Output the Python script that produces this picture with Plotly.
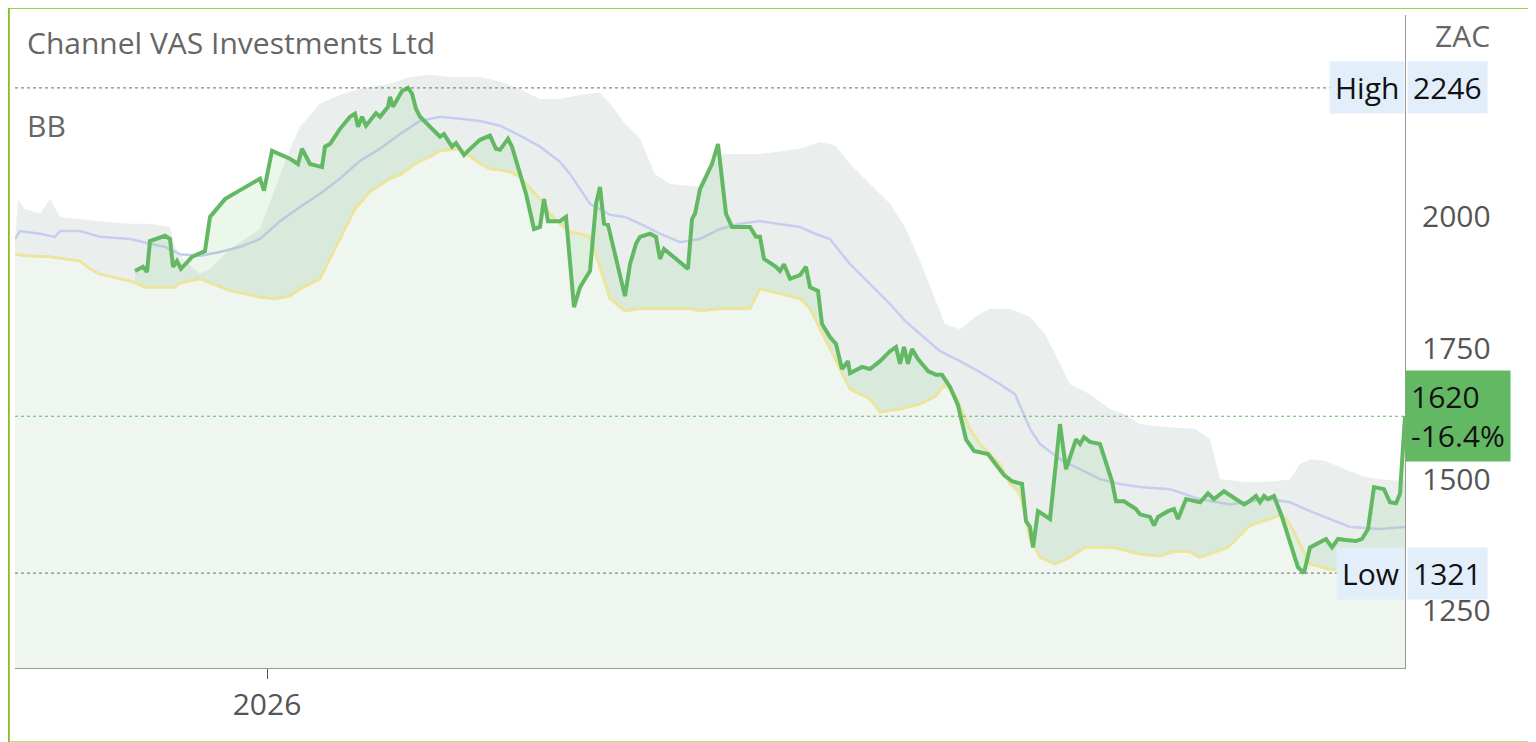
import numpy as np
import pandas as pd
import plotly.graph_objects as go

start = pd.Timestamp("2025-10-30")

# days since start, closing price
price_day = [30, 32, 33, 33.75, 37.5, 38.75, 39.5, 40.5, 41.5, 44.25, 45.75, 47.5, 48.75, 52.5, 54.25, 61.25, 62.25,
             64.25, 68.75, 70.75, 71.75, 73.75, 76.75, 77.5, 78.75, 81.25, 83.75, 85, 85.75, 86.75, 87.75, 90.25, 91.25,
             93.25, 93.75, 94.5, 96.75, 98.25, 99.25, 100.25, 101.25, 104.25, 106.25, 107.25, 109.25, 110.25, 112.25,
             113.25, 114.75, 116.25, 118.75, 120.25, 121.25, 123.25, 124.25, 127.75, 129.75, 131.25, 132.25, 133.25,
             136.25, 137.75, 139.75, 141.25, 143.75, 145.25, 146.25, 147.25, 148.25, 150.75, 152.5, 153.75, 155.25,
             156.25, 158.75, 160.25, 161.25, 162.25, 168.25, 169.25, 170, 171.25, 174.25, 175.75, 177.75, 179.25,
             183.75, 185.25, 186.25, 187.25, 190.25, 191.25, 192.25, 193.75, 196.25, 197.75, 198.75, 200.75, 201.75,
             203.75, 205.25, 206.75, 208.25, 208.75, 211.75, 213.75, 216.25, 218.75, 220.25, 221.25, 222.25, 223.25,
             224.25, 225.75, 228.25, 230.25, 231.75, 233.75, 235.75, 237.75, 239.75, 243.25, 247.25, 249.25, 251.75,
             252.75, 253.75, 254.5, 255.75, 258.75, 260.25, 261.25, 262.75, 265.25, 266.25, 267.25, 268.75, 271.25,
             274.25, 275.25, 277.25, 280.25, 281.25, 283.75, 284.75, 285.75, 288.25, 289.75, 290.75, 292.75, 296.25,
             298.25, 299.75, 302.25, 307.25, 308.25, 310.25, 311.25, 312.25, 313.25, 314.75, 316.75, 320.75, 322.25,
             323.75, 327.75, 329.25, 330.75, 332.75, 335.25, 336.75, 338.25, 339.75, 342.25, 343.75, 345.25, 346.25,
             347.5]
price = [1897, 1905, 1895, 1954, 1964, 1958, 1905, 1916, 1901, 1924, 1929, 1935, 2000, 2034, 2042, 2073, 2050,
         2126, 2111, 2101, 2130, 2101, 2095, 2134, 2139, 2168, 2191, 2197, 2172, 2191, 2174, 2198, 2191,
         2210, 2229, 2210, 2240, 2246, 2235, 2206, 2191, 2168, 2153, 2158, 2134, 2141, 2118,
         2126, 2137, 2147, 2155, 2130, 2128, 2149, 2134, 2044, 1977, 1981, 2034, 1992,
         1992, 2000, 1828, 1866, 1897, 2025, 2057, 1987, 1985, 1901, 1849, 1910, 1949,
         1962, 1968, 1962, 1920, 1939, 1901, 1996, 2006, 2053, 2101, 2139, 2006, 1981,
         1981, 1962, 1962, 1920, 1905, 1897, 1910, 1882, 1889, 1905, 1866, 1859, 1796,
         1771, 1758, 1710, 1725, 1702, 1714, 1710, 1725, 1744, 1752, 1720, 1752, 1720,
         1748, 1729, 1706, 1699, 1699, 1676, 1641, 1576, 1554, 1548, 1508, 1496, 1491,
         1420, 1409, 1370, 1439, 1424, 1538, 1605, 1519, 1576, 1567, 1580, 1571, 1567,
         1496, 1458, 1458, 1443, 1433, 1428, 1412, 1428, 1439, 1443, 1424, 1462, 1456,
         1473, 1462, 1477, 1452, 1456, 1468, 1456, 1468, 1462, 1468, 1428, 1332, 1321,
         1370, 1386, 1370, 1386, 1384, 1382, 1386, 1405, 1485, 1481, 1456, 1454, 1472,
         1620]

upper_day = [0, 0.75, 2.5, 6.25, 8.75, 11.25, 21.25, 28.75, 33.75, 38.75, 40, 42.5, 46.25, 48.75, 53.75, 61.25,
             68.75, 71.25, 76.25, 81.25, 86.25, 93.75, 98.75, 103.75, 108.75, 116.25, 121.25, 126.25, 131.25,
             136.25, 141.25, 146.25, 148.75, 152.5, 156.25, 160, 163.75, 171.25, 176.25, 181.25, 186.25, 196.25,
             201.25, 205, 208.75, 213.75, 218.75, 222.5, 226.25, 230, 232.5, 236.25, 240, 243.75, 248.75, 253.75,
             257.5, 261.25, 263.75, 268.75, 273.75, 277.5, 281.25, 288.75, 295, 298.75, 301.25, 308.75, 315,
             318.75, 321.25, 323.75, 327.5, 332.5, 337.5, 341.25, 347.5]
upper = [1958, 2034, 2015, 2006, 2034, 2000, 1992, 1987, 1987, 1981, 1943, 1916, 1891, 1901, 1939, 1977,
         2130, 2172, 2216, 2233, 2244, 2254, 2267, 2271, 2267, 2267, 2258, 2244, 2225,
         2225, 2233, 2237, 2216, 2178, 2149, 2082, 2063, 2057, 2120, 2120, 2120, 2130,
         2143, 2136, 2101, 2063, 2025, 1981, 1916, 1844, 1796, 1786, 1809, 1825, 1825, 1809,
         1777, 1720, 1681, 1662, 1634, 1624, 1605, 1599, 1596, 1576, 1500, 1494, 1496,
         1500, 1529, 1538, 1535, 1519, 1504, 1500, 1496]

lower_day = [0, 2.5, 8.75, 16.25, 18.75, 21.25, 28.75, 32.5, 40, 41.25, 46.25, 48.75, 53.75, 61.25, 65, 68.75,
             71.25, 76.25, 81.25, 85, 88.75, 93.75, 96.25, 100, 103.75, 106.25, 111.25, 116.25, 118.75, 123.75,
             126.25, 131.25, 133.75, 136.25, 138.75, 141.25, 143.75, 148.75, 152.5, 156.25, 168.75, 171.25, 176.25,
             183.75, 186.25, 191.25, 196.25, 198.75, 201.25, 206.25, 208.75, 213.75, 216.25, 221.25, 226.25, 230,
             232.5, 235, 238.75, 241.25, 246.25, 248.75, 251.25, 253.75, 256.25, 260, 263.75, 267.5, 273.75,
             276.25, 281.25, 286.25, 290, 293.75, 296.25, 300, 303.25, 308.75, 313.75, 316.75, 318.75, 321.25,
             323.75, 328.75, 333.75, 341.25, 347.5]
lower = [1929, 1926, 1924, 1916, 1901, 1891, 1878, 1866, 1866, 1874, 1882, 1874, 1859, 1847, 1844, 1849,
         1863, 1882, 1958, 2015, 2048, 2073, 2080, 2101, 2115, 2126, 2130, 2101, 2092, 2086,
         2076, 2034, 2006, 1987, 1971, 1968, 1962, 1844, 1821, 1825, 1825, 1821, 1825,
         1825, 1863, 1853, 1844, 1825, 1786, 1710, 1672, 1653, 1628, 1634, 1643, 1657,
         1681, 1662, 1596, 1567, 1529, 1491, 1475, 1386, 1351, 1338, 1351, 1370, 1370,
         1367, 1357, 1353, 1363, 1361, 1351, 1361, 1370, 1412, 1424, 1433, 1414, 1376,
         1338, 1328, 1325, 1319, 1290]

mid_day = [0, 1.25, 6.25, 10, 11.25, 16.25, 21.25, 28.75, 33.75, 37.5, 41.25, 46.25, 51.25, 56.25, 61.25, 66.25,
           71.25, 76.25, 81.25, 86.25, 91.25, 96.25, 101.25, 106.25, 111.25, 116.25, 121.25, 126.25, 131.25,
           136.25, 138.75, 143.75, 148.75, 152.5, 156.25, 161.25, 166.25, 171.25, 176.25, 181.25, 186.25, 191.25,
           196.25, 200, 203.75, 208.75, 213.75, 218.75, 222.5, 226.25, 231.25, 236.25, 241.25, 246.25, 250,
           253.75, 256.25, 261.25, 266.25, 271.25, 276.25, 281.25, 288.75, 296.25, 303.75, 308.75, 313.75,
           318.75, 323.75, 328.75, 333.75, 341.25, 347.5]
mid = [1958, 1973, 1968, 1962, 1973, 1973, 1962, 1958, 1949, 1943, 1929, 1926, 1933, 1943, 1958, 1992,
       2019, 2044, 2073, 2107, 2130, 2158, 2183, 2191, 2187, 2183, 2174, 2155, 2134,
       2105, 2082, 2025, 2004, 2000, 1987, 1968, 1952, 1958, 1977, 1987, 1992, 1987,
       1981, 1968, 1958, 1910, 1872, 1834, 1802, 1777, 1744, 1725, 1704, 1681, 1662,
       1596, 1567, 1538, 1519, 1500, 1491, 1485, 1481, 1462, 1452, 1458, 1462,
       1456, 1439, 1424, 1409, 1405, 1409]

assert len(price_day) == len(price)
assert len(upper_day) == len(upper)
assert len(lower_day) == len(lower)
assert len(mid_day) == len(mid)

high_val, low_val, last_val, change = 2246, 1321, 1620, "-16.4%"


def to_dates(days):
    return start + pd.to_timedelta(np.array(days, dtype=float), unit="D")


FONT = "Open Sans, Noto Sans, sans-serif"
GREEN = "#63b963"
FS = 30

fig = go.Figure()
# lower band with pale fill underneath
fig.add_trace(go.Scatter(x=to_dates(lower_day), y=lower, mode="lines",
                         line=dict(color="#ece59b", width=2.5), fill="tozeroy", fillcolor="#eff6ef"))
# grey band between lower and upper
fig.add_trace(go.Scatter(x=to_dates(upper_day), y=upper, mode="lines", line=dict(width=0),
                         fill="tonexty", fillcolor="rgba(200,212,208,0.38)"))
fig.add_trace(go.Scatter(x=to_dates(mid_day), y=mid, mode="lines",
                         line=dict(color="#c6cdef", width=2.5)))
# price fill against the lower band, sampled at the price dates
lower_at_price = np.interp(price_day, lower_day, lower)
fig.add_trace(go.Scatter(x=to_dates(price_day), y=lower_at_price, mode="lines", line=dict(width=0)))
fig.add_trace(go.Scatter(x=to_dates(price_day), y=price, mode="lines", line=dict(width=0),
                         fill="tonexty", fillcolor="rgba(110,190,110,0.13)"))
fig.add_trace(go.Scatter(x=to_dates(lower_day), y=lower, mode="lines",
                         line=dict(color="#ece59b", width=2.5)))
fig.add_trace(go.Scatter(x=to_dates(price_day), y=price, mode="lines",
                         line=dict(color=GREEN, width=4)))

x0 = to_dates([0])[0]
x1 = to_dates([347.5])[0]

for val, col in [(high_val, "#888"), (low_val, "#888"), (last_val, GREEN)]:
    fig.add_shape(type="line", xref="paper", x0=0, x1=1, y0=val, y1=val,
                  line=dict(color=col, width=1.2, dash="dot"))

ann = []
for lab, val in [("High", high_val), ("Low", low_val)]:
    ann.append(dict(x=1.0, xref="paper", y=val, yref="y", text=lab, xanchor="right", showarrow=False,
                    bgcolor="#e3eefb", font=dict(size=FS, color="#111", family=FONT), borderpad=5))
    ann.append(dict(x=1.0, xref="paper", y=val, yref="y", text=str(val), xanchor="left", showarrow=False,
                    bgcolor="#e3eefb", font=dict(size=FS, color="#111", family=FONT), borderpad=5,
                    xshift=2))
ann.append(dict(x=1.0, xref="paper", y=last_val, yref="y", text=f"{last_val}<br>{change}", xanchor="left",
                yanchor="middle", showarrow=False, bgcolor=GREEN, align="left",
                font=dict(size=FS, color="#111", family=FONT), borderpad=5))
ann.append(dict(x=1.0, xref="paper", y=1.0, yref="paper", text="ZAC", xanchor="center", yanchor="top",
                xshift=57, yshift=2, showarrow=False, font=dict(size=FS, color="#666", family=FONT)))
ann.append(dict(x=0, xref="paper", y=2333, yref="y", text="Channel VAS Investments Ltd", xanchor="left",
                xshift=10, showarrow=False, font=dict(size=FS, color="#666", family=FONT)))
ann.append(dict(x=0, xref="paper", y=2175, yref="y", text="BB", xanchor="left", xshift=10,
                showarrow=False, font=dict(size=FS, color="#666", family=FONT)))

fig.update_layout(
    width=1528, height=734,
    margin=dict(l=7, r=131, t=7, b=74),
    paper_bgcolor="white", plot_bgcolor="white",
    showlegend=False,
    annotations=ann,
    xaxis=dict(range=[x0, x1], showgrid=False, zeroline=False, showline=True, linecolor="#999",
               tickvals=[pd.Timestamp("2026-01-01")], ticktext=["2026"], ticks="outside",
               ticklen=10, tickcolor="#555", tickfont=dict(size=FS, color="#555", family=FONT)),
    yaxis=dict(range=[1140, 2385], side="right", showgrid=False, zeroline=False, showline=True,
               linecolor="#999", tickvals=[1250, 1500, 1750, 2000], ticks="outside", ticklen=10,
               tickcolor="rgba(0,0,0,0)", tickfont=dict(size=FS, color="#555", family=FONT)),
)
fig.add_shape(type="rect", xref="paper", yref="paper", x0=-0.0045, x1=1.094, y0=-0.114, y1=1.011,
              line=dict(color="#7dc21e", width=2))
fig.write_html("out.html")
